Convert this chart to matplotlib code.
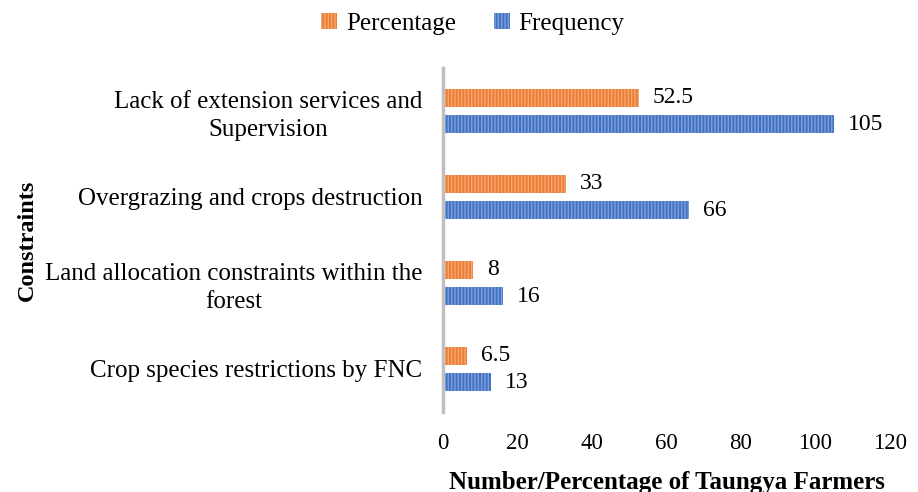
import numpy as np
import matplotlib; matplotlib.use("Agg")
import matplotlib.pyplot as plt
from matplotlib.patches import Patch

plt.rcParams.update({"font.family": ["Liberation Serif", "DejaVu Serif"],
                     "hatch.linewidth": 1.0})

categories = ["Lack of extension services and\nSupervision",
              "Overgrazing and crops destruction",
              "Land allocation constraints within the\nforest",
              "Crop species restrictions by FNC"]
percentage = [52.5, 33, 8, 6.5]
frequency = [105, 66, 16, 13]
pct_labels = ["52.5", "33", "8", "6.5"]
freq_labels = ["105", "66", "16", "13"]
xticks = [0, 20, 40, 60, 80, 100, 120]

ORANGE, ORANGE_H = "#ED7D31", "#F4A676"
BLUE, BLUE_H = "#4472C4", "#7C9FDB"

fig = plt.figure(figsize=(9.18, 4.92), dpi=100)
ax = fig.add_axes([0.4826, 0.1626, 0.4869, 0.6994])

y = np.arange(len(categories))
h = 0.21; off = 0.155
ax.barh(y - off, percentage, height=h, color=ORANGE, edgecolor=ORANGE_H,
        linewidth=0, hatch="|||||", label="Percentage")
ax.barh(y + off, frequency, height=h, color=BLUE, edgecolor=BLUE_H,
        linewidth=0, hatch="|||||", label="Frequency")

for yi, v, t in zip(y, percentage, pct_labels):
    ax.annotate(t, (v, yi - off), xytext=(10, 0), textcoords="offset points",
                va="center", ha="left", fontsize=17)
for yi, v, t in zip(y, frequency, freq_labels):
    ax.annotate(t, (v, yi + off), xytext=(10, 0), textcoords="offset points",
                va="center", ha="left", fontsize=17)

ax.set_ylim(3.5, -0.5)
ax.set_xlim(0, 120)
ax.set_xticks(xticks)
ax.set_yticks(y)
ax.set_yticklabels(categories, fontsize=18, linespacing=1.3)
for lab in ax.get_yticklabels():
    lab.set_multialignment("center")
ax.tick_params(axis="x", labelsize=16.5, length=0, pad=15)
ax.tick_params(axis="y", length=0, pad=15)
for s in ["top", "right", "bottom"]:
    ax.spines[s].set_visible(False)
ax.spines["left"].set_color("#BFBFBF")
ax.spines["left"].set_linewidth(2.5)

ax.set_xlabel("Number/Percentage of Taungya Farmers", fontsize=18,
              fontweight="bold", labelpad=12)
fig.text(0.03, 0.512, "Constraints", rotation=90, fontsize=17.5, fontweight="bold",
         va="center", ha="center")

handles = [Patch(facecolor=ORANGE, edgecolor=ORANGE_H, linewidth=0, hatch="|||||"),
           Patch(facecolor=BLUE, edgecolor=BLUE_H, linewidth=0, hatch="|||||")]
fig.legend(handles, ["Percentage", "Frequency"], loc="upper center",
           bbox_to_anchor=(0.515, 1.02), ncol=2, frameon=False, fontsize=18,
           handlelength=0.65, handleheight=0.65, handletextpad=0.35, columnspacing=1.5)

fig.savefig("out.png", dpi=100)
